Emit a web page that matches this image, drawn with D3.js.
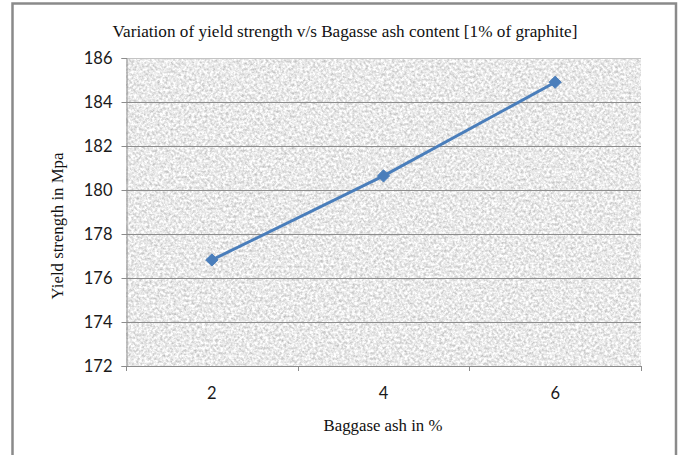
<!DOCTYPE html>
<html>
<head>
<meta charset="utf-8">
<script src="https://cdn.jsdelivr.net/npm/d3@7"></script>
<style>
  html, body { margin: 0; padding: 0; background: #fff; }
  svg { display: block; }
</style>
</head>
<body>
<div id="chart"></div>
<script>
// Yield strength against bagasse ash content (1% graphite)
const categories = ["2", "4", "6"];
const yieldStrength = [176.82, 180.64, 184.9];
const yTicks = [172, 174, 176, 178, 180, 182, 184, 186];

const W = 682, H = 455;
const plot = { left: 126, right: 641, top: 58, bottom: 366 };

const svg = d3.select("#chart").append("svg")
  .attr("width", W).attr("height", H);

svg.append("rect").attr("width", W).attr("height", H).attr("fill", "#fff");

// grainy fill for the plot area
const defs = svg.append("defs");
const grain = defs.append("filter").attr("id", "grain")
  .attr("x", 0).attr("y", 0).attr("width", 1).attr("height", 1)
  .attr("color-interpolation-filters", "sRGB");
grain.append("feTurbulence")
  .attr("type", "fractalNoise").attr("baseFrequency", 0.38)
  .attr("numOctaves", 3).attr("seed", 7).attr("result", "n");
grain.append("feColorMatrix").attr("in", "n").attr("type", "matrix")
  .attr("values", "0.45 0 0 0 0.69  0.45 0 0 0 0.69  0.45 0 0 0 0.69  0 0 0 0 1");

const x = d3.scaleBand().domain(categories).range([plot.left, plot.right]).padding(0);
const y = d3.scaleLinear().domain([172, 186]).range([plot.bottom, plot.top]);

svg.append("rect")
  .attr("x", plot.left).attr("y", plot.top)
  .attr("width", plot.right - plot.left).attr("height", plot.bottom - plot.top)
  .attr("filter", "url(#grain)");

// horizontal gridlines
svg.append("g").selectAll("line")
  .data(yTicks.filter(t => t !== 172))
  .join("line")
  .attr("x1", plot.left).attr("x2", plot.right)
  .attr("y1", d => Math.round(y(d)) + 0.5).attr("y2", d => Math.round(y(d)) + 0.5)
  .attr("stroke", d => d === 186 ? "#c4c4c4" : "#8c8c8c")
  .attr("stroke-width", 1);

const tickFont = "Lato, 'Open Sans', sans-serif";

// y axis
const yAxis = svg.append("g")
  .attr("transform", `translate(${plot.left + 0.5},0)`)
  .call(d3.axisLeft(y).tickValues(yTicks).tickSize(5).tickPadding(9).tickFormat(d3.format("d")));
yAxis.select(".domain").attr("stroke", "#8c8c8c");
yAxis.selectAll(".tick line").attr("stroke", "#8c8c8c");
yAxis.selectAll(".tick text")
  .attr("font-family", tickFont)
  .attr("font-size", "16.5px").attr("fill", "#1a1a1a");

// x axis with ticks on category boundaries
const xAxisG = svg.append("g");
xAxisG.append("line")
  .attr("x1", plot.left).attr("x2", plot.right)
  .attr("y1", plot.bottom + 0.5).attr("y2", plot.bottom + 0.5)
  .attr("stroke", "#8c8c8c");
const bounds = categories.map(c => x(c)).concat([x(categories[categories.length - 1]) + x.bandwidth()]);
xAxisG.selectAll("line.tk").data(bounds).join("line").attr("class", "tk")
  .attr("x1", d => Math.round(d) + 0.5).attr("x2", d => Math.round(d) + 0.5)
  .attr("y1", plot.bottom).attr("y2", plot.bottom + 5)
  .attr("stroke", "#8c8c8c");
xAxisG.selectAll("text").data(categories).join("text")
  .attr("x", d => x(d) + x.bandwidth() / 2)
  .attr("y", 399)
  .attr("text-anchor", "middle")
  .attr("font-family", tickFont)
  .attr("font-size", "16.5px").attr("fill", "#1a1a1a")
  .text(d => d);

// series line and diamond markers
const cx = d => x(d) + x.bandwidth() / 2;
const pts = categories.map((c, i) => [cx(c), y(yieldStrength[i])]);
svg.append("path")
  .attr("d", d3.line()(pts))
  .attr("fill", "none").attr("stroke", "#4a7ebb")
  .attr("stroke-width", 3).attr("stroke-linejoin", "round");
svg.append("g").selectAll("path")
  .data(pts).join("path")
  .attr("transform", d => `translate(${d[0]},${d[1]})`)
  .attr("d", d3.symbol().type(d3.symbolDiamond2).size(95))
  .attr("fill", "#4a7ebb").attr("stroke", "#4a7ebb");

// titles
const serif = "'Liberation Serif', 'Times New Roman', serif";
svg.append("text")
  .attr("x", 345).attr("y", 37)
  .attr("text-anchor", "middle")
  .attr("font-family", serif).attr("font-size", "17.2px").attr("fill", "#111")
  .text("Variation of yield strength v/s Bagasse ash content  [1% of graphite]");
svg.append("text")
  .attr("x", 383).attr("y", 431)
  .attr("text-anchor", "middle")
  .attr("font-family", serif).attr("font-size", "16.8px").attr("fill", "#111")
  .text("Baggase ash in %");
svg.append("text")
  .attr("transform", "translate(63,226) rotate(-90)")
  .attr("text-anchor", "middle")
  .attr("font-family", serif).attr("font-size", "16.8px").attr("fill", "#111")
  .text("Yield strength in Mpa");

// outer frame
svg.append("rect")
  .attr("x", 12.5).attr("y", 3.5).attr("width", 663.5).attr("height", 470)
  .attr("fill", "none").attr("stroke", "#8a8a8a").attr("stroke-width", 2.5);
</script>
</body>
</html>
